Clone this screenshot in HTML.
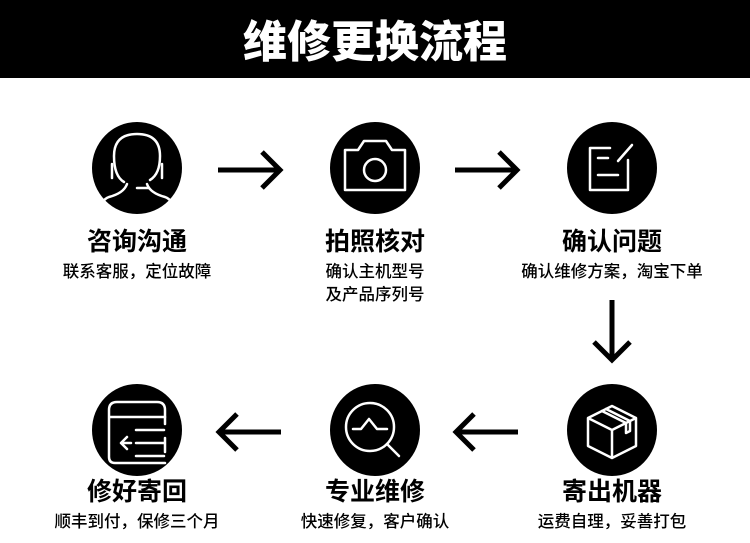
<!DOCTYPE html>
<html><head><meta charset="utf-8"><style>
html,body{margin:0;padding:0;background:#fff;}
body{width:750px;height:543px;overflow:hidden;position:relative;font-family:"Liberation Sans","Noto Sans CJK SC",sans-serif;}
.hdr{position:absolute;left:0;top:0;width:750px;height:78px;background:#000;}
</style></head><body>
<div class="hdr"></div>
<svg width="750" height="543" style="position:absolute;left:0;top:0" xmlns="http://www.w3.org/2000/svg">
<text x="375" y="57" text-anchor="middle" font-size="44" font-weight="900" fill="#fff" font-family="Noto Sans CJK SC, sans-serif">维修更换流程</text>

<g fill="#000">
<ellipse cx="137" cy="168" rx="45" ry="46"/>
<ellipse cx="375" cy="168" rx="45" ry="46"/>
<ellipse cx="612" cy="168" rx="45" ry="46"/>
<ellipse cx="137" cy="430" rx="45" ry="46"/>
<ellipse cx="375" cy="430" rx="45" ry="46"/>
<ellipse cx="612" cy="430" rx="45" ry="46"/>
</g>

<g fill="none" stroke="#fff" stroke-width="2.5" stroke-linecap="round" stroke-linejoin="round">
<path d="M124 182 q-10 -6 -10 -26 q0 -22 23 -22 q23 0 23 22 q0 18 -10 24"/>
<path d="M112 164 v14 M162 164 v14"/>
<path d="M127 184 q-3 9 -18 13 q-8 3 -8 12 M147 184 q3 9 18 13 q8 3 8 12"/>
<path d="M137 188 h12"/>
<path d="M345 150 h13 l6 -9 h22 l6 9 h13 v40 h-60 z"/>
<circle cx="375" cy="170" r="11"/>
<path d="M628 160 v30 h-38 v-42 h20"/>
<path d="M598 158 h10 M598 175 h20"/>
<path d="M618 161 l14 -16"/>
<path d="M109 410 q0 -8 8 -8 h40 q8 0 8 8 v7 h-56 z M109 417 v40 q0 6 6 6 h50"/>
<path d="M165 417 v7 M165 438 v14"/>
<path d="M127 437 l-6 6 l6 6 M121 443 h10 M136 430 h28 M136 443 h28 M136 456 h28"/>
<circle cx="370" cy="427" r="24"/>
<path d="M387 444 l12 12"/>
<path d="M353 429 h8 l8 -10 l8 10 h10"/>
<path d="M588 418 l24 -12 l24 12 v28 l-24 12 l-24 -12 z M588 418 l24 12 l24 -12 M612 430 v28"/>
<path d="M602 411 l24 12 v10 l4 -2 v-10 l-24 -12"/>
</g>

<g fill="none" stroke="#000" stroke-width="5">
<path d="M218 170 h62 M262 152 l18 18 l-18 18"/>
<path d="M455 170 h62 M499 152 l18 18 l-18 18"/>
<path d="M612 300 v60 M594 342 l18 18 l18 -18"/>
<path d="M281 432 h-62 M237 414 l-18 18 l18 18"/>
<path d="M518 432 h-62 M474 414 l-18 18 l18 18"/>
</g>

<g fill="#000" font-family="Liberation Sans, Noto Sans CJK SC, sans-serif" text-anchor="middle">
<g font-size="25" font-weight="bold">
<text x="137" y="250">咨询沟通</text>
<text x="375" y="250">拍照核对</text>
<text x="612" y="250">确认问题</text>
<text x="137" y="500">修好寄回</text>
<text x="375" y="500">专业维修</text>
<text x="612" y="500">寄出机器</text>
</g>
<g font-size="16.5" font-weight="500">
<text x="137" y="277">联系客服，定位故障</text>
<text x="375" y="277">确认主机型号</text>
<text x="375" y="300">及产品序列号</text>
<text x="612" y="277">确认维修方案，淘宝下单</text>
<text x="137" y="527">顺丰到付，保修三个月</text>
<text x="375" y="527">快速修复，客户确认</text>
<text x="612" y="527">运费自理，妥善打包</text>
</g>
</g>
</svg>
</body></html>
